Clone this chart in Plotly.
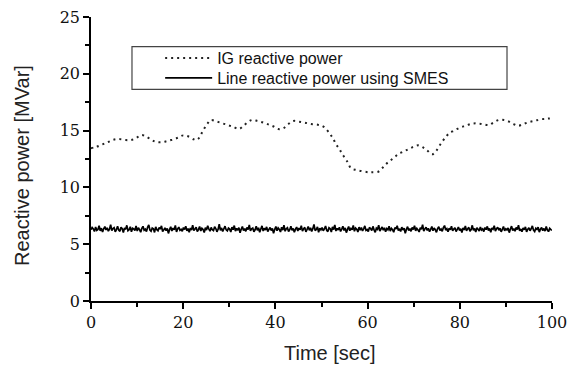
import plotly.graph_objects as go

# IG reactive power (dotted)
ig_time = [0, 1.2, 2.5, 3.6, 4.7, 5.9, 7.4, 8.7, 9.9, 11.0,
           12.1, 13.2, 14.1, 15.3, 16.4, 17.6, 18.9, 20.0, 21.3, 22.3,
           22.8, 23.5, 24.0, 24.6, 25.3, 26.0, 27.3, 28.5, 29.8, 30.9,
           32.1, 33.0, 34.0, 34.9, 36.1, 37.4, 38.6, 39.5, 40.6, 41.7,
           42.8, 43.9, 45.1, 46.4, 47.7, 49.2, 50.4, 51.3, 52.0, 52.6,
           53.1, 53.9, 54.4, 55.2, 55.8, 56.4, 57.6, 58.9, 60.3, 60.9,
           62.3, 63.2, 64.0, 64.9, 65.8, 66.7, 67.7, 68.8, 69.9, 71.0,
           72.1, 73.0, 74.0, 74.8, 75.5, 76.2, 76.9, 77.7, 78.7, 80.0,
           81.3, 82.6, 83.8, 85.1, 86.3, 87.3, 88.4, 89.6, 90.7, 91.8,
           92.7, 93.8, 95.1, 96.3, 97.5, 99.0, 100]
ig_power = [13.45, 13.58, 13.79, 13.97, 14.17, 14.26, 14.17, 14.17, 14.38, 14.61,
            14.44, 14.17, 14.0, 13.97, 14.06, 14.2, 14.38, 14.58, 14.46, 14.23,
            14.17, 14.38, 14.76, 15.2, 15.64, 15.93, 15.79, 15.64, 15.47, 15.32,
            15.14, 15.4, 15.73, 15.93, 15.85, 15.7, 15.52, 15.38, 15.14, 15.2,
            15.58, 15.85, 15.79, 15.7, 15.58, 15.52, 15.35, 14.99, 14.61, 14.23,
            13.82, 13.38, 13.0, 12.53, 12.12, 11.68, 11.53, 11.42, 11.33, 11.33,
            11.38, 11.71, 12.06, 12.35, 12.65, 12.94, 13.14, 13.35, 13.56, 13.7,
            13.5, 13.23, 12.91, 13.17, 13.62, 14.02, 14.41, 14.76, 14.99, 15.26,
            15.43, 15.61, 15.64, 15.55, 15.49, 15.7, 15.93, 15.93, 15.79, 15.55,
            15.43, 15.58, 15.76, 15.87, 15.99, 16.05, 16.08]

# Line reactive power using SMES (solid, noisy), sampled evenly from 0 to 100 s
smes_power = [
    6.28, 6.47, 6.35, 6.12, 6.51, 6.22, 6.30, 6.63, 6.18, 6.41, 6.07, 6.36, 6.55, 6.26, 6.44, 6.15, 6.33, 6.72, 6.20, 6.38,
    6.46, 6.09, 6.29, 6.58, 6.24, 6.13, 6.49, 6.37, 6.02, 6.42, 6.31, 6.66, 6.19, 6.27, 6.53, 6.10, 6.40, 6.34, 6.21, 6.60,
    6.16, 6.45, 6.29, 6.05, 6.39, 6.57, 6.23, 6.32, 6.11, 6.48, 6.70, 6.25, 6.14, 6.43, 6.36, 6.04, 6.52, 6.28, 6.19, 6.47,
    6.33, 6.61, 6.12, 6.26, 6.44, 6.20, 6.38, 5.95, 6.30, 6.54, 6.17, 6.41, 6.27, 6.65, 6.08, 6.35, 6.50, 6.22, 6.31, 6.13,
    6.46, 6.29, 6.58, 6.18, 6.37, 6.06, 6.42, 6.25, 6.68, 6.21, 6.34, 6.49, 6.11, 6.28, 6.56, 6.16, 6.40, 6.30, 6.03, 6.45,
    6.24, 6.62, 6.35, 6.14, 6.47, 6.27, 6.19, 6.53, 6.38, 6.09, 6.31, 6.76, 6.22, 6.43, 6.12, 6.36, 6.59, 6.26, 6.17, 6.41,
    6.33, 6.07, 6.50, 6.28, 6.64, 6.15, 6.39, 6.23, 6.46, 6.01, 6.32, 6.55, 6.20, 6.37, 6.13, 6.48, 6.29, 6.69, 6.18, 6.35,
    6.42, 6.10, 6.27, 6.57, 6.22, 6.44, 6.05, 6.34, 6.61, 6.16, 6.40, 6.26, 6.52, 6.12, 6.31, 6.47, 6.21, 6.38, 5.97, 6.29,
    6.55, 6.19, 6.43, 6.30, 6.08, 6.49, 6.24, 6.67, 6.14, 6.36, 6.45, 6.11, 6.28, 6.58, 6.23, 6.39, 6.06, 6.33, 6.51, 6.17,
    6.41, 6.27, 6.63, 6.15, 6.35, 6.48, 6.09, 6.31, 6.56, 6.22, 6.44, 6.13, 6.37, 6.74, 6.20, 6.29, 6.52, 6.04, 6.40, 6.26,
    6.47, 6.18, 6.34, 6.60, 6.23, 6.11, 6.45, 6.36, 6.07, 6.53, 6.28, 6.70, 6.16, 6.39, 6.25, 6.49, 6.12, 6.33, 6.58, 6.21,
    6.43, 6.02, 6.30, 6.55, 6.19, 6.38, 6.27, 6.65, 6.14, 6.42, 6.32, 6.08, 6.50, 6.24, 6.46, 6.17, 6.35, 6.61, 6.22, 6.29,
    6.11, 6.48, 6.37, 6.20, 6.57, 6.26, 6.04, 6.41, 6.31, 6.68, 6.16, 6.34, 6.52, 6.23, 6.44, 6.10, 6.38, 6.27, 6.59, 6.15,
    6.40, 6.28, 6.05, 6.46, 6.33, 6.63, 6.19, 6.36, 6.12, 6.50, 6.25, 6.42, 5.96, 6.31, 6.54, 6.21, 6.37, 6.13, 6.47, 6.29,
    6.62, 6.18, 6.39, 6.26, 6.08, 6.45, 6.32, 6.71, 6.15, 6.35, 6.49, 6.22, 6.40, 6.10, 6.30, 6.56, 6.19, 6.43, 6.27, 6.05,
    6.38, 6.53, 6.21, 6.34, 6.14, 6.47, 6.64, 6.24, 6.36, 6.09, 6.41, 6.28, 6.58, 6.17, 6.33, 6.45, 6.12, 6.30, 6.51, 6.20,
    6.37, 6.03, 6.42, 6.26, 6.60, 6.18, 6.35, 6.48, 6.13, 6.29, 6.66, 6.22, 6.39, 6.07, 6.44, 6.31, 6.16, 6.52, 6.25, 6.34,
    6.11, 6.46, 6.28, 6.57, 6.20, 6.38, 6.06, 6.43, 6.32, 6.62, 6.15, 6.36, 6.49, 6.23, 6.40, 6.09, 6.30, 6.55, 6.19, 6.35,
    6.26, 6.44, 6.02, 6.33, 6.59, 6.21, 6.37, 6.14, 6.47, 6.29, 6.68, 6.17, 6.34, 6.10, 6.42, 6.27, 6.53, 6.08, 6.31, 6.45,
    6.18, 6.36, 6.61, 6.24, 6.12, 6.40, 6.30, 6.50, 6.06, 6.33, 6.46, 6.20, 6.38, 6.15, 6.56, 6.25, 6.11, 6.39, 6.28, 6.22,
]
smes_time = [i * 100.0 / (len(smes_power) - 1) for i in range(len(smes_power))]

x_ticks = [0, 20, 40, 60, 80, 100]
y_ticks = [0, 5, 10, 15, 20, 25]

SERIF = "DejaVu Serif"
SANS = "Liberation Sans"

fig = go.Figure()
fig.add_trace(go.Scatter(
    x=ig_time, y=ig_power, mode="lines", name="IG reactive power", legend="legend",
    showlegend=True,
    line=dict(color="#222222", width=2, dash="2px,4px", shape="spline"),
))
fig.add_trace(go.Scatter(
    x=smes_time, y=smes_power, mode="lines", name="Line reactive power using SMES", legend="legend2",
    showlegend=True,
    line=dict(color="#000000", width=1.7, simplify=False),
))

axis_common = dict(
    showgrid=False, zeroline=False, showline=True, linecolor="#000", linewidth=1.5,
    ticks="outside", ticklen=6, tickwidth=1.5, tickcolor="#000",
    tickfont=dict(family=SERIF, size=16, color="#111"),
    mirror=False, automargin=False,
)

legend_common = dict(xanchor="left", yanchor="top", bgcolor="rgba(0,0,0,0)", borderwidth=0,
                     itemwidth=47, font=dict(family=SANS, size=16, color="#111"))

fig.update_layout(
    width=570, height=373,
    margin=dict(l=91, r=18, t=17, b=72),
    paper_bgcolor="white", plot_bgcolor="white",
    showlegend=True,
    xaxis=dict(range=[0, 100], tickvals=x_ticks,
               minor=dict(dtick=10, ticklen=4, tickwidth=1.5, tickcolor="#000", ticks="outside"),
               **axis_common),
    yaxis=dict(range=[0, 25], tickvals=y_ticks,
               minor=dict(dtick=2.5, ticklen=4, tickwidth=1.5, tickcolor="#000", ticks="outside"),
               **axis_common),
    legend=dict(x=0.15, y=0.915, **legend_common),
    legend2=dict(x=0.15, y=0.845, **legend_common),
    shapes=[dict(type="rect", xref="paper", yref="paper",
                 x0=0.0889, x1=0.9024, y0=0.7454, y1=0.8954,
                 line=dict(color="#444", width=1.2), fillcolor="rgba(0,0,0,0)", layer="above")],
    annotations=[
        dict(text="Time [sec]", xref="paper", yref="paper", x=0.518, y=-0.183,
             xanchor="center", yanchor="middle", showarrow=False,
             font=dict(family=SANS, size=20, color="#222")),
        dict(text="Reactive power [MVar]", xref="paper", yref="paper", x=-0.1497, y=0.479,
             xanchor="center", yanchor="middle", textangle=-90, showarrow=False,
             font=dict(family=SANS, size=20, color="#222")),
    ],
)

fig.write_html("out.html")
